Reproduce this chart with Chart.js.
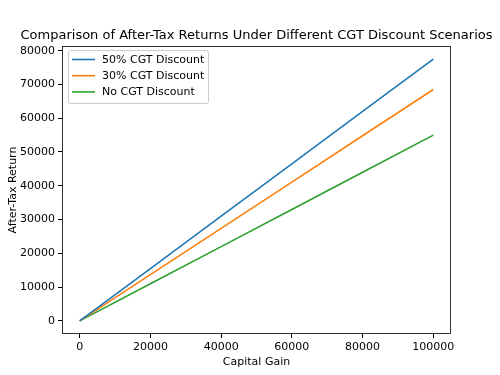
<!DOCTYPE html>
<html><head><meta charset="utf-8">
<script src="https://cdn.jsdelivr.net/npm/chart.js@4/dist/chart.umd.min.js"></script>
<style>html,body{margin:0;padding:0;background:#fff}#wrap{width:500px;height:375px}</style>
</head><body><div id="wrap"><canvas id="c" width="500" height="375"></canvas></div>
<script>
const capitalGain = [0, 20000, 40000, 60000, 80000, 100000];
const discount50 = [0, 15500, 31000, 46500, 62000, 77500];
const discount30 = [0, 13700, 27400, 41100, 54800, 68500];
const noDiscount = [0, 11000, 22000, 33000, 44000, 55000];
const seriesLabels = ['50% CGT Discount', '30% CGT Discount', 'No CGT Discount'];
const xTicks = [0, 20000, 40000, 60000, 80000, 100000];
const yTicks = [0, 10000, 20000, 30000, 40000, 50000, 60000, 70000, 80000];
const titleText = 'Comparison of After-Tax Returns Under Different CGT Discount Scenarios';
const xTitle = 'Capital Gain';
const yTitle = 'After-Tax Return';

const FONT = '"DejaVu Sans", sans-serif';
const colors = ['#1f77b4', '#ff7f0e', '#2ca02c'];
const toPts = arr => arr.map((v, i) => ({x: capitalGain[i], y: v}));

const overlay = {
  id: 'overlay',
  afterDraw(chart) {
    const ctx = chart.ctx, a = chart.chartArea;
    ctx.save();
    ctx.strokeStyle = '#000'; ctx.lineWidth = 0.8;
    ctx.strokeRect(a.left + 0.5, a.top + 0.5, a.right - a.left - 1, a.bottom - a.top - 1);
    const cx = (a.left + a.right) / 2;
    ctx.fillStyle = '#000';
    ctx.textAlign = 'center'; ctx.textBaseline = 'alphabetic';
    ctx.font = '13px ' + FONT;
    ctx.fillText(titleText, cx, 39);
    ctx.font = '11px ' + FONT;
    ctx.fillText(xTitle, cx, 365);
    ctx.save();
    ctx.translate(16, (a.top + a.bottom) / 2);
    ctx.rotate(-Math.PI / 2);
    ctx.fillText(yTitle, 0, 0);
    ctx.restore();
    // legend
    const lx = a.left + 6, ly = a.top + 4, lw = 140, lh = 53;
    ctx.fillStyle = 'rgba(255,255,255,0.8)';
    ctx.strokeStyle = '#cccccc'; ctx.lineWidth = 1;
    ctx.beginPath();
    if (ctx.roundRect) ctx.roundRect(lx + 0.5, ly + 0.5, lw, lh, 2); else ctx.rect(lx + 0.5, ly + 0.5, lw, lh);
    ctx.fill(); ctx.stroke();
    ctx.textAlign = 'left'; ctx.textBaseline = 'middle';
    chart.data.datasets.forEach((ds, i) => {
      const y = ly + 9.5 + i * 16.2;
      ctx.strokeStyle = ds.borderColor; ctx.lineWidth = 1.6;
      ctx.beginPath(); ctx.moveTo(lx + 4, y); ctx.lineTo(lx + 27, y); ctx.stroke();
      ctx.fillStyle = '#000';
      ctx.fillText(ds.label, lx + 34, y + 0.5);
    });
    ctx.restore();
  }
};

new Chart(document.getElementById('c'), {
  type: 'line',
  data: {
    datasets: [
      {label: seriesLabels[0], data: toPts(discount50), borderColor: colors[0]},
      {label: seriesLabels[1], data: toPts(discount30), borderColor: colors[1]},
      {label: seriesLabels[2], data: toPts(noDiscount), borderColor: colors[2]}
    ].map(d => Object.assign(d, {borderWidth: 1.6, pointRadius: 0, fill: false, tension: 0}))
  },
  options: {
    responsive: false, animation: false,
    layout: {padding: {top: 46, right: 49, left: 0, bottom: 0}},
    plugins: {legend: {display: false}, title: {display: false}, tooltip: {enabled: false}},
    scales: {
      x: {
        type: 'linear', min: -5000, max: 105000,
        afterBuildTicks: s => { s.ticks = xTicks.map(v => ({value: v})); },
        afterFit: s => { s.height = 41; },
        grid: {drawOnChartArea: false, tickLength: 4, tickColor: '#000', color: '#000'},
        border: {display: false},
        ticks: {font: {family: FONT, size: 11}, color: '#000', padding: 3, maxRotation: 0, callback: v => String(v)}
      },
      y: {
        type: 'linear', min: -3875, max: 81375,
        afterBuildTicks: s => { s.ticks = yTicks.map(v => ({value: v})); },
        afterFit: s => { s.width = 62; },
        grid: {drawOnChartArea: false, tickLength: 4, tickColor: '#000', color: '#000'},
        border: {display: false},
        ticks: {font: {family: FONT, size: 11}, color: '#000', padding: 3, callback: v => String(v)}
      }
    }
  },
  plugins: [overlay]
});
</script></body></html>
